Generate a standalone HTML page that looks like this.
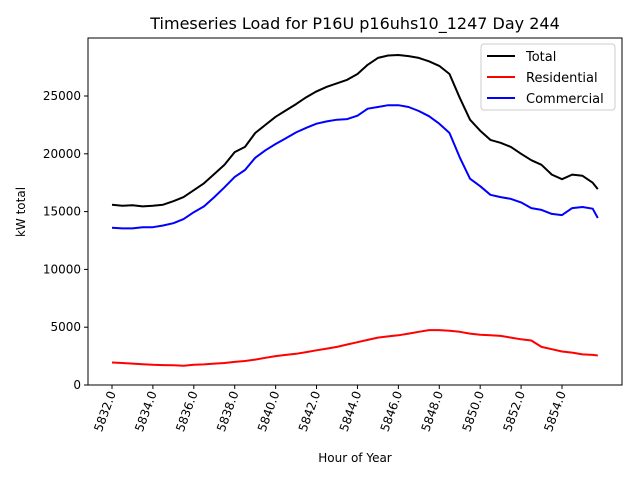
<!DOCTYPE html>
<html><head><meta charset="utf-8"><style>
body{margin:0;background:#fff;font-family:"DejaVu Sans","Liberation Sans",sans-serif}
svg text{font-family:"DejaVu Sans","Liberation Sans",sans-serif}
</style></head><body>
<svg id="chart" width="640" height="480">
<rect width="640" height="480" fill="#fff"/>
<text x="355" y="29" font-size="16" text-anchor="middle">Timeseries Load for P16U p16uhs10_1247  Day 244</text>
<g id="plot"></g>
</svg>
<script>
const hours=[5832,5832.5,5833,5833.5,5834,5834.5,5835,5835.5,5836,5836.5,5837,5837.5,5838,5838.5,5839,5839.5,5840,5840.5,5841,5841.5,5842,5842.5,5843,5843.5,5844,5844.5,5845,5845.5,5846,5846.5,5847,5847.5,5848,5848.5,5849,5849.5,5850,5850.5,5851,5851.5,5852,5852.5,5853,5853.5,5854,5854.5,5855,5855.5,5855.75];
const total=[15600,15500,15550,15450,15500,15600,15900,16250,16850,17450,18250,19050,20150,20600,21800,22500,23200,23750,24300,24900,25400,25800,26100,26400,26900,27700,28300,28500,28550,28450,28300,28000,27600,26900,24850,22950,22000,21200,20950,20600,20000,19450,19050,18200,17800,18200,18100,17500,16950];
const residential=[1950,1900,1850,1800,1750,1720,1700,1660,1750,1780,1850,1900,2000,2080,2200,2350,2500,2600,2700,2850,3000,3150,3300,3500,3700,3900,4100,4200,4300,4450,4600,4750,4750,4700,4600,4450,4350,4300,4250,4100,3950,3850,3300,3100,2900,2800,2650,2600,2550];
const commercial=[13600,13550,13550,13650,13650,13800,14000,14350,14950,15450,16250,17100,18000,18600,19650,20300,20850,21350,21850,22250,22600,22800,22950,23000,23300,23900,24050,24200,24200,24050,23700,23250,22600,21800,19700,17850,17200,16450,16250,16100,15800,15300,15150,14800,14700,15300,15400,15250,14450];
const xticks=[5832,5834,5836,5838,5840,5842,5844,5846,5848,5850,5852,5854];
const yticks=[0,5000,10000,15000,20000,25000];
const L=88,R=622,T=38,B=385;
const X=h=>112+(h-5832)*(450/22);
const Y=v=>B-v*(289/25000);
const ns="http://www.w3.org/2000/svg";
const g=document.getElementById('plot');
function mk(t,a){const e=document.createElementNS(ns,t);for(const k in a)e.setAttribute(k,a[k]);g.appendChild(e);return e;}
function line(vals,color,name){
 const p=mk('polyline',{points:vals.map((v,i)=>X(hours[i]).toFixed(1)+','+Y(v).toFixed(1)).join(' '),fill:'none',stroke:color,'stroke-width':2,'stroke-linejoin':'round'});
 
 
}
line(total,'#000','total-line');
line(residential,'#f00','residential-line');
line(commercial,'#00f','commercial-line');
const fr=mk('rect',{x:L,y:T,width:R-L,height:B-T,fill:'none',stroke:'#000','stroke-width':1});


xticks.forEach(h=>{
 const x=X(h);
 mk('line',{x1:x,y1:B,x2:x,y2:B+4,stroke:'#000'});
 const t=mk('text',{x:0,y:0,'font-size':12,'text-anchor':'end',transform:`translate(${x+4},${B+8}) rotate(-70)`});
 t.textContent=h.toFixed(1);
 
 
});
yticks.forEach(v=>{
 const y=Y(v);
 mk('line',{x1:L-4,y1:y,x2:L,y2:y,stroke:'#000'});
 const t=mk('text',{x:L-7,y:y+4,'font-size':12,'text-anchor':'end'});
 t.textContent=v;
 
 
});
const xt=mk('text',{x:355,y:462,'font-size':12,'text-anchor':'middle'});xt.textContent='Hour of Year';


const yt=mk('text',{x:0,y:0,'font-size':12,'text-anchor':'middle',transform:'translate(25,212) rotate(-90)'});yt.textContent='kW total';


const lg=mk('rect',{x:481,y:44,width:134,height:66,rx:3,fill:'#fff','fill-opacity':0.8,stroke:'#ccc'});


[['Total','#000'],['Residential','#f00'],['Commercial','#00f']].forEach((e,i)=>{
 const y=56+i*21;
 mk('line',{x1:487,y1:y,x2:515,y2:y,stroke:e[1],'stroke-width':2});
 const t=mk('text',{x:526,y:y+5,'font-size':13});t.textContent=e[0];
 
 
});
</script>
</body></html>
